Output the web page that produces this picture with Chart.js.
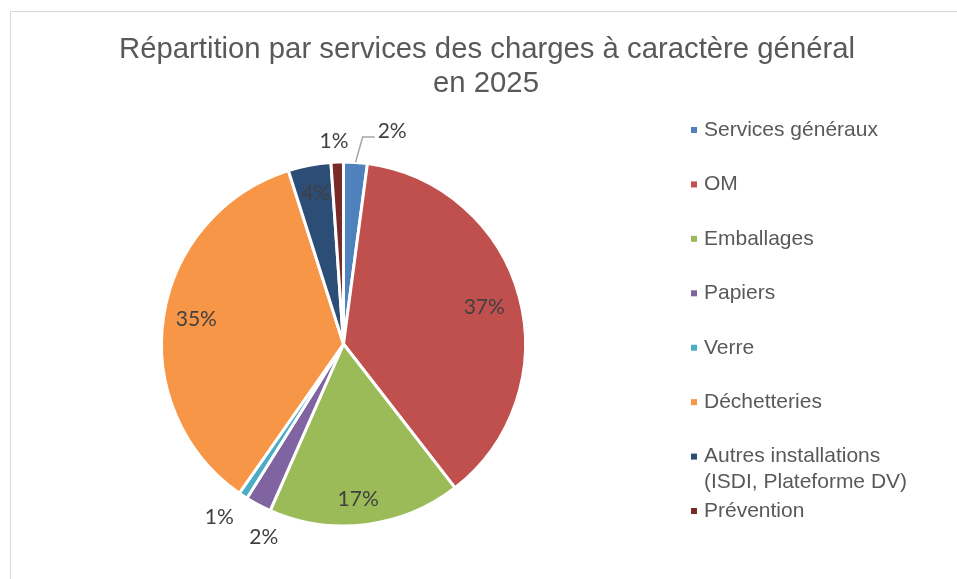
<!DOCTYPE html>
<html>
<head>
<meta charset="utf-8">
<title>Répartition des charges 2025</title>
<script src="https://cdn.jsdelivr.net/npm/chart.js@4.4.0/dist/chart.umd.min.js"></script>
<style>
  html, body { margin: 0; padding: 0; background: #fff; overflow: hidden; }
  #frame { position: absolute; left: 10px; top: 11px; width: 1000px; height: 1000px; border: 1.5px solid #d9d9d9; }
  #chartCharges { position: absolute; left: 0; top: 0; }
</style>
</head>
<body>
<div id="frame"></div>
<canvas id="chartCharges" width="957" height="579"></canvas>
<script>
  const titleLines = ['Répartition par services des charges à caractère général', 'en 2025'];
  const categories = ['Services généraux', 'OM', 'Emballages', 'Papiers', 'Verre', 'Déchetteries',
    'Autres installations (ISDI, Plateforme DV)', 'Prévention'];
  const shares = [2.1, 37.4, 17.1, 2.3, 0.8, 35.4, 3.8, 1.1];
  const sliceColors = ['#4F81BD', '#C0504D', '#9BBB59', '#8064A2', '#4BACC6', '#F79646', '#2C4D75', '#772C2A'];

  // placement des étiquettes : facteur de rayon + décalage angulaire (degrés)
  const labelPlacement = [
    { r: 1.20, shift: 9.1, leader: true },
    { r: 0.80, shift: 0.3 },
    { r: 0.855, shift: 1.6 },
    { r: 1.15, shift: -5.5 },
    { r: 1.17, shift: 2.2 },
    { r: 0.82, shift: 0.9 },
    { r: 0.84, shift: 0.4 },
    { r: 1.115, shift: -0.7 }
  ];

  const textColor = '#595959';
  const labelColor = '#404040';

  function wrapText(ctx, text, maxWidth) {
    const words = text.split(' ');
    const lines = [];
    let line = '';
    words.forEach(w => {
      const test = line ? line + ' ' + w : w;
      if (ctx.measureText(test).width > maxWidth && line) {
        lines.push(line);
        line = w;
      } else {
        line = test;
      }
    });
    if (line) lines.push(line);
    return lines;
  }

  const decorPlugin = {
    id: 'decor',
    afterDatasetsDraw(chart) {
      const ctx = chart.ctx;
      const meta = chart.getDatasetMeta(0);
      const values = chart.data.datasets[0].data;
      const total = values.reduce((a, b) => a + b, 0);

      ctx.save();

      // titre
      ctx.fillStyle = textColor;
      ctx.font = '29.3px "Liberation Sans", Arial, sans-serif';
      ctx.textAlign = 'center';
      ctx.textBaseline = 'alphabetic';
      ctx.fillText(titleLines[0], 487, 58);
      ctx.fillText(titleLines[1], 486, 91.7);

      // étiquettes de données
      ctx.font = '21px Lato, "Open Sans", sans-serif';
      ctx.textBaseline = 'middle';
      meta.data.forEach((arc, i) => {
        const p = arc.getProps(['x', 'y', 'startAngle', 'endAngle', 'outerRadius'], true);
        const place = labelPlacement[i];
        const mid = (p.startAngle + p.endAngle) / 2;
        const ang = mid + place.shift * Math.PI / 180;
        const lx = p.x + Math.cos(ang) * p.outerRadius * place.r;
        const ly = p.y + Math.sin(ang) * p.outerRadius * place.r;
        const txt = Math.round(values[i] / total * 100) + '%';

        if (place.leader) {
          const w = ctx.measureText(txt).width;
          const sx = p.x + Math.cos(mid) * p.outerRadius;
          const sy = p.y + Math.sin(mid) * p.outerRadius;
          const ex = lx - w / 2 - 3;
          const ey = ly + 6;
          ctx.strokeStyle = '#a6a6a6';
          ctx.lineWidth = 1.5;
          ctx.beginPath();
          ctx.moveTo(sx, sy);
          ctx.lineTo(ex - 12, ey);
          ctx.lineTo(ex, ey);
          ctx.stroke();
        }

        ctx.fillStyle = labelColor;
        ctx.textAlign = 'center';
        ctx.fillText(txt, lx, ly);
      });

      // légende
      ctx.font = '21px "Liberation Sans", Arial, sans-serif';
      ctx.textAlign = 'left';
      ctx.textBaseline = 'middle';
      const legendX = 691;
      const legendY = 130;
      const legendStep = 54.43;
      chart.data.labels.forEach((label, i) => {
        const y = legendY + i * legendStep;
        ctx.fillStyle = sliceColors[i];
        ctx.fillRect(legendX, y - 3, 6, 6);
        ctx.fillStyle = textColor;
        wrapText(ctx, label, 215).forEach((line, j) => {
          ctx.fillText(line, legendX + 13, y + j * 26);
        });
      });

      ctx.restore();
    }
  };

  new Chart(document.getElementById('chartCharges'), {
    type: 'pie',
    data: {
      labels: categories,
      datasets: [{
        data: shares,
        backgroundColor: sliceColors,
        borderColor: '#ffffff',
        borderWidth: 3
      }]
    },
    options: {
      responsive: false,
      animation: false,
      layout: {
        padding: { left: 160, right: 430, top: 160.5, bottom: 51.5 }
      },
      plugins: {
        legend: { display: false },
        tooltip: { enabled: false },
        title: { display: false }
      }
    },
    plugins: [decorPlugin]
  });
</script>
</body>
</html>
